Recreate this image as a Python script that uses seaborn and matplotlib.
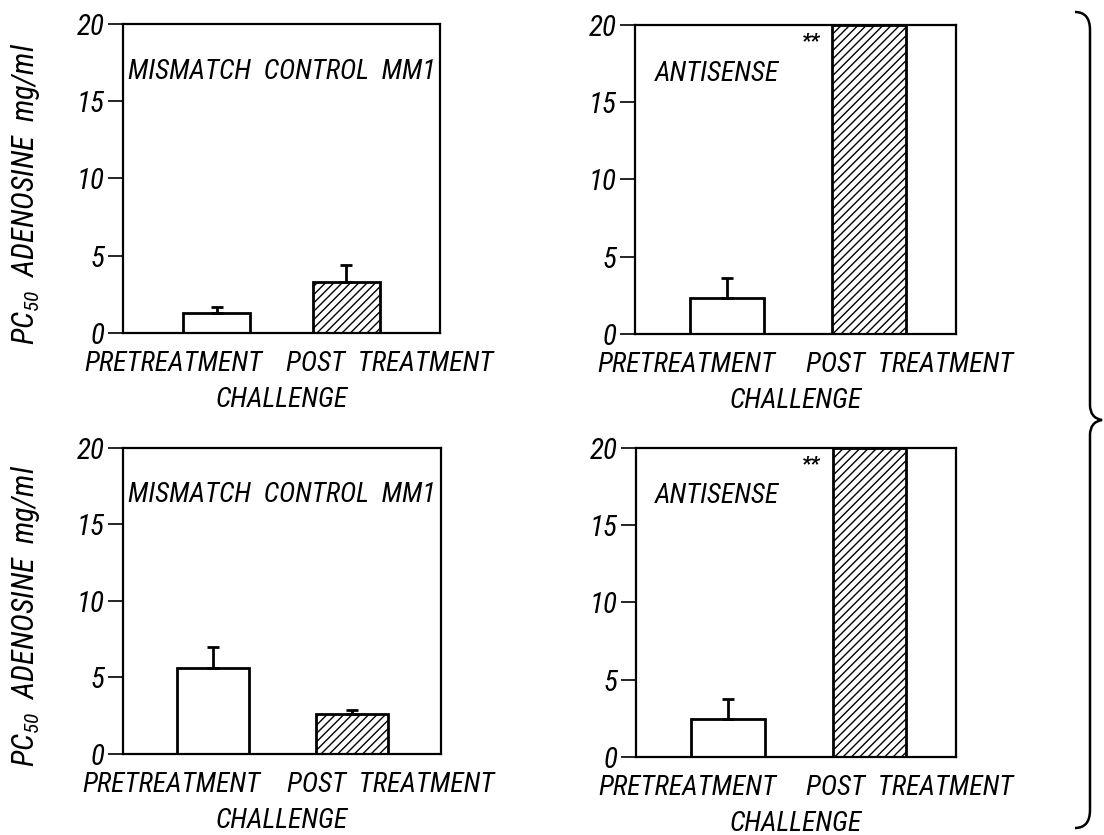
import numpy as np
import matplotlib
matplotlib.use('Agg')
import matplotlib.pyplot as plt
import seaborn as sns
from matplotlib.path import Path
from matplotlib.patches import PathPatch

# data
categories = ['PRETREATMENT', 'POST  TREATMENT']
panel_titles = ['MISMATCH  CONTROL  MM1', 'ANTISENSE', 'MISMATCH  CONTROL  MM1', 'ANTISENSE']
means = [[1.3, 3.3], [2.3, 20.0], [5.6, 2.6], [2.45, 20.0]]
err_upper = [[0.4, 1.1], [1.3, 0.0], [1.4, 0.3], [1.3, 0.0]]
y_ticks = [0, 5, 10, 15, 20]
stars = [None, '**', None, '**']

sns.set_style('white')
FONT = 'Roboto Condensed'
plt.rcParams['font.family'] = [FONT, 'DejaVu Sans']
plt.rcParams['font.style'] = 'italic'
plt.rcParams['mathtext.fontset'] = 'custom'
plt.rcParams['mathtext.rm'] = FONT + ':italic'
plt.rcParams['mathtext.it'] = FONT + ':italic'
plt.rcParams['mathtext.default'] = 'it'
for k in ['text.color', 'axes.labelcolor', 'xtick.color', 'ytick.color', 'axes.edgecolor']:
    plt.rcParams[k] = 'black'
plt.rcParams['hatch.linewidth'] = 1.0

fig = plt.figure(figsize=(11.04, 8.35), dpi=100)
fig.patch.set_facecolor('white')

positions = [
    [0.1114, 0.6012, 0.2871, 0.3701],
    [0.5752, 0.6000, 0.2908, 0.3701],
    [0.1114, 0.0970, 0.2881, 0.3665],
    [0.5761, 0.0934, 0.2898, 0.3701],
]
xlims = [(-0.72, 1.72), (-0.65, 1.61), (-0.65, 1.64), (-0.65, 1.61)]
label_x = [[-0.33, 1.33], [-0.29, 1.28], [-0.30, 1.28], [-0.29, 1.28]]
title_xy = [(0.016, 0.845), (0.062, 0.841), (0.016, 0.846), (0.060, 0.845)]

for i in range(4):
    ax = fig.add_axes(positions[i])
    sns.barplot(x=categories, y=means[i], ax=ax, color='white', edgecolor='black',
                linewidth=2, width=0.52, errorbar=None, saturation=1)
    bars = ax.patches
    bars[1].set_hatch('////')
    for b in bars:
        b.set_facecolor('white')
    xs = np.arange(len(categories))
    ax.errorbar(xs, means[i], yerr=[np.zeros(2), err_upper[i]], fmt='none',
                ecolor='black', elinewidth=2, capsize=4.5, capthick=2)
    ax.set_ylim(0, 20)
    ax.set_xlim(*xlims[i])
    ax.set_yticks(y_ticks)
    ax.set_yticklabels([str(t) for t in y_ticks], fontsize=21, style='italic')
    ax.set_xticks(label_x[i])
    ax.set_xticklabels(categories, fontsize=20, style='italic')
    ax.tick_params(axis='x', length=0, pad=13)
    ax.tick_params(axis='y', length=11, width=1.2, pad=2, left=True)
    for s in ax.spines.values():
        s.set_visible(True)
        s.set_linewidth(1.6)
    ax.set_xlabel('CHALLENGE', fontsize=20, style='italic', labelpad=7)
    if i % 2 == 0:
        ax.set_ylabel('PC$_{50}$  ADENOSINE  mg/ml', fontsize=22, style='italic')
        ax.yaxis.set_label_coords(-0.255, 0.45)
    else:
        ax.set_ylabel('')
    ax.text(title_xy[i][0], title_xy[i][1], panel_titles[i], transform=ax.transAxes,
            fontsize=20, style='italic', va='center', ha='left')
    if stars[i]:
        ax.text(0.548, 0.95, stars[i], transform=ax.transAxes, fontsize=15,
                fontweight='bold', style='italic', ha='center', va='center')

# right-hand curly brace grouping the two rows (pixel coords, y down)
W, H = 1104, 835
pts = [(1075, 12), (1090, 12), (1090, 30), (1090, 405), (1090, 418), (1102, 420),
       (1090, 422), (1090, 435), (1090, 810), (1090, 828), (1075, 828)]
codes = [Path.MOVETO, Path.CURVE3, Path.CURVE3, Path.LINETO, Path.CURVE3, Path.CURVE3,
         Path.CURVE3, Path.CURVE3, Path.LINETO, Path.CURVE3, Path.CURVE3]
verts = [(x / W, 1 - y / H) for x, y in pts]
fig.add_artist(PathPatch(Path(verts, codes), transform=fig.transFigure,
                         fill=False, edgecolor='black', linewidth=1.8))

fig.savefig('out.png', dpi=100, facecolor='white')
